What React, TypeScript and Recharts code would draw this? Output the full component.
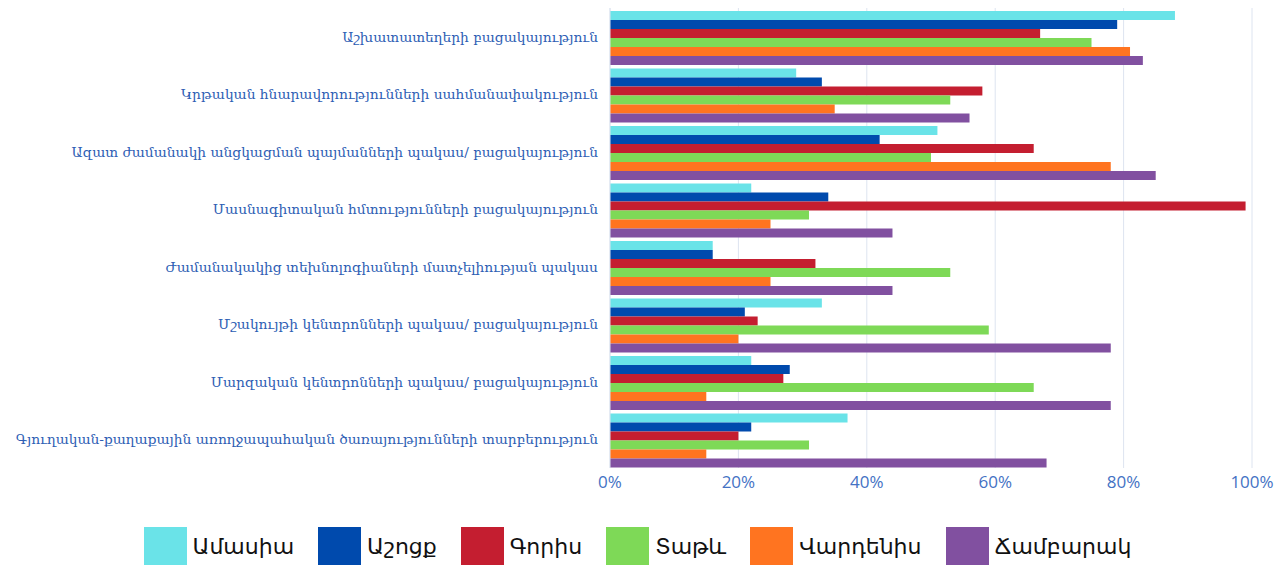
import React from 'react';
import { BarChart, Bar, XAxis, YAxis, CartesianGrid } from 'recharts';

const categories = [
  'Աշխատատեղերի բացակայություն',
  'Կրթական հնարավորությունների սահմանափակություն',
  'Ազատ ժամանակի անցկացման պայմանների պակաս/ բացակայություն',
  'Մասնագիտական հմտությունների բացակայություն',
  'Ժամանակակից տեխնոլոգիաների մատչելիության պակաս',
  'Մշակույթի կենտրոնների պակաս/ բացակայություն',
  'Մարզական կենտրոնների պակաս/ բացակայություն',
  'Գյուղական-քաղաքային առողջապահական ծառայությունների տարբերություն',
];

const amasia = [88, 29, 51, 22, 16, 33, 22, 37];
const ashotsk = [79, 33, 42, 34, 16, 21, 28, 22];
const goris = [67, 58, 66, 99, 32, 23, 27, 20];
const tatev = [75, 53, 50, 31, 53, 59, 66, 31];
const vardenis = [81, 35, 78, 25, 25, 20, 15, 15];
const chambarak = [83, 56, 85, 44, 44, 78, 78, 68];

const xTicks = [0, 20, 40, 60, 80, 100];

const series = [
  { key: 'amasia', name: 'Ամասիա', color: '#6ae3e8', values: amasia },
  { key: 'ashotsk', name: 'Աշոցք', color: '#004aad', values: ashotsk },
  { key: 'goris', name: 'Գորիս', color: '#c41e30', values: goris },
  { key: 'tatev', name: 'Տաթև', color: '#7ed957', values: tatev },
  { key: 'vardenis', name: 'Վարդենիս', color: '#ff7420', values: vardenis },
  { key: 'chambarak', name: 'Ճամբարակ', color: '#8150a0', values: chambarak },
];

const data = categories.map((name, i) => {
  const row: Record<string, string | number> = { name };
  series.forEach(s => { row[s.key] = s.values[i]; });
  return row;
});

// labels stay on one line, right-aligned against the axis
const CategoryTick = (props: any) => {
  const { x, y, payload } = props;
  return (
    <text
      x={x - 4}
      y={y}
      dy={5}
      textAnchor="end"
      fill="#2e5eb4"
      fontSize={13.8}
      fontFamily='"DejaVu Serif", serif'
    >
      {payload.value}
    </text>
  );
};

const ChartLegend = () => (
  <div
    style={{
      display: 'flex',
      justifyContent: 'center',
      alignItems: 'center',
      height: 68,
      paddingTop: 28,
      boxSizing: 'border-box',
      fontFamily: '"DejaVu Sans", sans-serif',
    }}
  >
    {series.map(s => (
      <div key={s.key} style={{ display: 'flex', alignItems: 'center', margin: '0 12px' }}>
        <span style={{ display: 'inline-block', width: 43, height: 38, background: s.color, marginRight: 6 }} />
        <span style={{ fontSize: 22, color: '#111' }}>{s.name}</span>
      </div>
    ))}
  </div>
);

const App: React.FC = () => (
  <div style={{ position: 'absolute', left: 0, top: 0, width: 1275, height: 566, background: '#fff', overflow: 'hidden' }}>
    <BarChart
      width={1275}
      height={498}
      data={data}
      layout="vertical"
      margin={{ top: 8, right: 23, left: 0, bottom: 0 }}
      barCategoryGap={3}
      barGap={0}
    >
      <CartesianGrid horizontal={false} stroke="#dde4f0" />
      <XAxis
        type="number"
        domain={[0, 100]}
        ticks={xTicks}
        tickFormatter={v => `${v}%`}
        tick={{ fill: '#4472c4', fontSize: 17, fontFamily: '"Open Sans", sans-serif' }}
        axisLine={false}
        tickLine={false}
        height={30}
      />
      <YAxis
        type="category"
        dataKey="name"
        width={610}
        tick={CategoryTick}
        axisLine={{ stroke: '#dde4f0' }}
        tickLine={false}
        interval={0}
      />
      {series.map(s => (
        <Bar key={s.key} dataKey={s.key} name={s.name} fill={s.color} isAnimationActive={false} />
      ))}
    </BarChart>
    <ChartLegend />
  </div>
);

export default App;
